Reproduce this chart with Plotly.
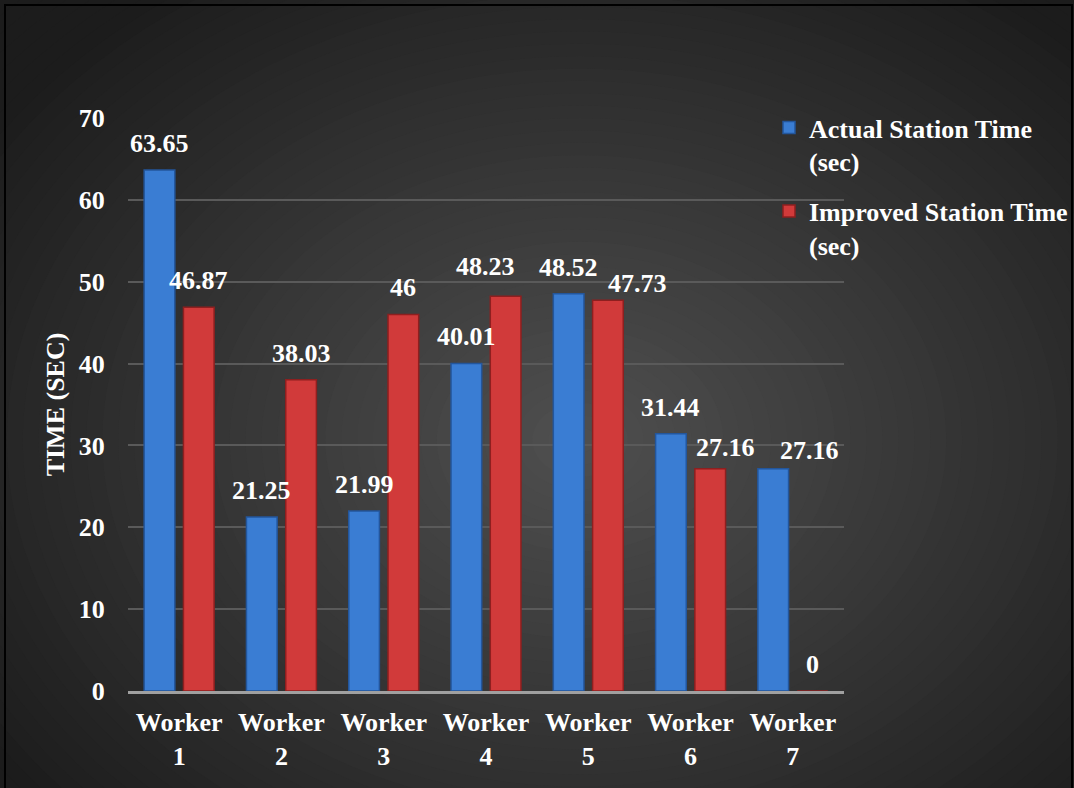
import plotly.graph_objects as go

categories = ["Worker<br>1", "Worker<br>2", "Worker<br>3", "Worker<br>4",
              "Worker<br>5", "Worker<br>6", "Worker<br>7"]
actual = [63.65, 21.25, 21.99, 40.01, 48.52, 31.44, 27.16]
improved = [46.87, 38.03, 46, 48.23, 47.73, 27.16, 0]
series_names = ["Actual Station Time<br>(sec)", "Improved Station Time<br>(sec)"]
y_ticks = [0, 10, 20, 30, 40, 50, 60, 70]

# manual label nudges (pixels: dx right, dy up) as in the original chart
label_nudge = {(1, 3): (-20, 3), (1, 4): (30, -10), (1, 5): (15, -5), (0, 6): (36, -8)}

W, H = 1074, 788
L, R, T, B = 128, 230, 118, 97
PW, PH = W - L - R, H - T - B
BARGAP, BARGROUPGAP = 0.232, 0.219
FONT = "Liberation Serif"
WHITE_BOLD = dict(family=FONT, size=26, color="white", weight="bold")

def px_x(p):
    return (p - L) / PW

def px_y(p):
    return (H - B - p) / PH

fig = go.Figure()
colors = [("#3a7dd3", "#23569c"), ("#d13a3a", "#8e1f1f")]
for i, (name, vals) in enumerate(zip(series_names, [actual, improved])):
    fig.add_trace(go.Bar(
        x=categories, y=vals, name=name, legendgroup=str(i),
        marker=dict(color=colors[i][0], line=dict(color=colors[i][1], width=1.5)),
    ))

# data labels as annotations above each bar
cat_w = PW / len(categories)
slot = cat_w * (1 - BARGAP) / 2
for i, vals in enumerate([actual, improved]):
    shift = (i - 0.5) * slot
    for j, (c, v) in enumerate(zip(categories, vals)):
        dx, dy = label_nudge.get((i, j), (0, 0))
        fig.add_annotation(x=c, y=v, text=f"{v:g}", showarrow=False,
                           xshift=shift + dx, yshift=10 + dy, yanchor="bottom",
                           font=WHITE_BOLD)

# background radial gradient
shapes = []
cx, cy, rx, ry = 580, 440, 720, 560
n = 52
for k in range(n):
    r = 1.15 * (1 - k / n)
    g = int(round(max(28, 80 - 52 * r)))
    col = f"rgb({g},{g},{g})"
    shapes.append(dict(type="circle", xref="paper", yref="paper", layer="below",
                       x0=px_x(cx - rx * r), x1=px_x(cx + rx * r),
                       y0=px_y(cy + ry * r), y1=px_y(cy - ry * r),
                       fillcolor=col, line=dict(width=0)))
shapes.append(dict(type="rect", xref="paper", yref="paper", layer="above",
                   x0=px_x(5), x1=px_x(1072), y0=px_y(820), y1=px_y(5),
                   line=dict(color="black", width=2), fillcolor="rgba(0,0,0,0)"))

fig.update_layout(
    width=W, height=H,
    margin=dict(l=L, r=R, t=T, b=B, autoexpand=False),
    paper_bgcolor="rgb(28,28,28)",
    plot_bgcolor="rgba(0,0,0,0)",
    barmode="group", bargap=BARGAP, bargroupgap=BARGROUPGAP,
    font=WHITE_BOLD,
    shapes=shapes,
    showlegend=True,
    legend=dict(x=px_x(769), y=px_y(104), xanchor="left", yanchor="top",
                bgcolor="rgba(0,0,0,0)", font=WHITE_BOLD,
                valign="top", tracegroupgap=13, traceorder="grouped"),
    xaxis=dict(showline=True, linecolor="#a0a0a0", linewidth=3,
               showgrid=False, ticks="outside", ticklen=6, tickcolor="rgba(0,0,0,0)",
               tickfont=WHITE_BOLD),
    yaxis=dict(range=[0, 70], tickvals=y_ticks, showgrid=True, gridcolor="#5a5a5a",
               gridwidth=1.5, zeroline=False, showline=False,
               ticks="outside", ticklen=17, tickcolor="rgba(0,0,0,0)",
               tickfont=WHITE_BOLD,
               title=dict(text="TIME (SEC)", standoff=6, font=WHITE_BOLD)),
)

fig.write_html("out.html")
